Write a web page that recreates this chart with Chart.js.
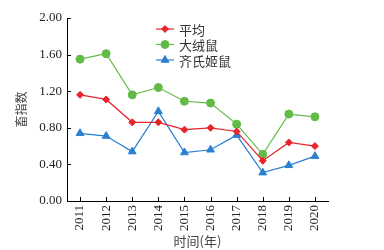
<!DOCTYPE html>
<html>
<head>
<meta charset="utf-8">
<script src="https://cdn.jsdelivr.net/npm/chart.js@4"></script>
<style>
  html, body { margin: 0; padding: 0; background: #fff; }
  #wrap { width: 384px; height: 250px; }
</style>
</head>
<body>
<div id="wrap"><canvas id="chart" width="384" height="250"></canvas></div>
<script>
// data
const years = ['2011', '2012', '2013', '2014', '2015', '2016', '2017', '2018', '2019', '2020'];
const pingjun = [1.16, 1.11, 0.86, 0.86, 0.78, 0.80, 0.76, 0.44, 0.64, 0.60];
const darongshu = [1.55, 1.61, 1.16, 1.24, 1.09, 1.07, 0.84, 0.51, 0.95, 0.92];
const qishijishu = [0.74, 0.71, 0.54, 0.98, 0.53, 0.56, 0.72, 0.31, 0.39, 0.49];
const seriesNames = ['平均', '大绒鼠', '齐氏姬鼠'];

const serif = '"Liberation Serif", "DejaVu Serif", serif';
const cjk = '"Noto Sans CJK SC", "Noto Sans", sans-serif';

// legend inside the plot + inward tick marks
const extras = {
  id: 'extras',
  afterDraw(chart) {
    const c = chart.ctx;
    const xs = chart.scales.x, ys = chart.scales.y;
    c.save();
    c.strokeStyle = '#000';
    c.lineWidth = 1;
    c.beginPath();
    ys.ticks.forEach((t, i) => {
      const y = Math.round(ys.getPixelForTick(i)) + 0.5;
      c.moveTo(xs.left, y);
      c.lineTo(xs.left + 4, y);
    });
    xs.ticks.forEach((t, i) => {
      const x = Math.round(xs.getPixelForTick(i)) + 0.5;
      c.moveTo(x, ys.bottom);
      c.lineTo(x, ys.bottom - 4);
    });
    c.stroke();

    chart.data.datasets.forEach((ds, i) => {
      const y = 29 + i * 15.5;
      c.strokeStyle = ds.borderColor;
      c.fillStyle = ds.borderColor;
      c.lineWidth = 1.2;
      c.beginPath();
      c.moveTo(156, y);
      c.lineTo(174, y);
      c.stroke();
      c.lineWidth = 1;
      Chart.helpers.drawPoint(c, {
        pointStyle: ds.pointStyle,
        radius: ds.pointRadius,
        borderWidth: 1
      }, 165, y);
      c.fillStyle = '#333';
      c.font = '13px ' + cjk;
      c.textBaseline = 'middle';
      c.fillText(ds.label, 179, y + 1);
    });
    c.restore();
  }
};

function line(label, data, color, style, r) {
  return {
    label: label,
    data: data,
    borderColor: color,
    backgroundColor: color,
    borderWidth: 1.2,
    pointStyle: style,
    pointRadius: r,
    pointBorderWidth: 1,
    pointBackgroundColor: color,
    pointBorderColor: color,
    tension: 0
  };
}

new Chart(document.getElementById('chart'), {
  type: 'line',
  data: {
    labels: years,
    datasets: [
      line(seriesNames[0], pingjun, '#e8242c', 'rectRot', 3.5),
      line(seriesNames[1], darongshu, '#62bb46', 'circle', 4),
      line(seriesNames[2], qishijishu, '#2b7fd0', 'triangle', 4.5)
    ]
  },
  plugins: [extras],
  options: {
    responsive: false,
    animation: false,
    layout: { padding: { left: 0, right: 56, top: 18, bottom: 0 } },
    plugins: {
      legend: { display: false },
      tooltip: { enabled: false }
    },
    scales: {
      x: {
        offset: true,
        afterFit: s => { s.height = 49; },
        grid: { display: false, drawTicks: false },
        border: { color: '#000', width: 1 },
        ticks: {
          minRotation: 90,
          maxRotation: 90,
          padding: 4,
          color: '#222',
          font: { family: serif, size: 13 }
        },
        title: {
          display: true,
          text: '时间(年)',
          color: '#444',
          padding: { top: 0, bottom: 1 },
          font: { family: cjk, size: 13 }
        }
      },
      y: {
        min: 0,
        max: 2,
        afterFit: s => { s.width = 67; },
        grid: { display: false, drawTicks: false },
        border: { color: '#000', width: 1 },
        ticks: {
          stepSize: 0.4,
          padding: 5,
          color: '#222',
          font: { family: serif, size: 13 },
          callback: v => v.toFixed(2)
        },
        title: {
          display: true,
          text: '畜指数',
          color: '#444',
          padding: { top: 14, bottom: 0 },
          font: { family: cjk, size: 12 }
        }
      }
    }
  }
});
</script>
</body>
</html>
